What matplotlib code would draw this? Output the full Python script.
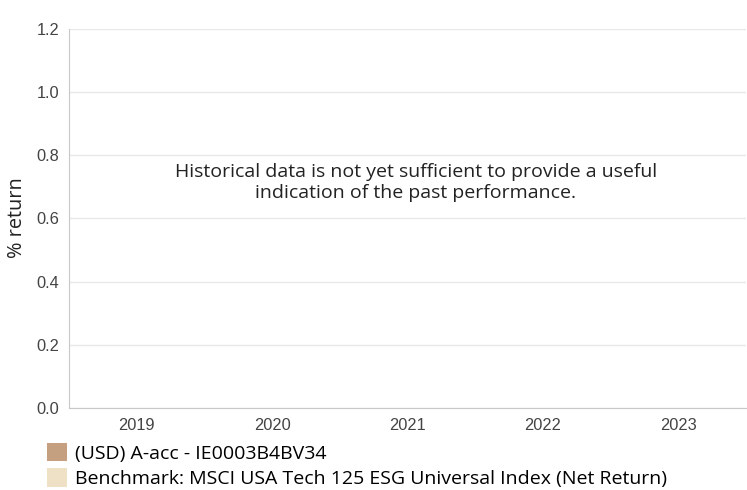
import numpy as np
import matplotlib.pyplot as plt
from matplotlib.patches import Patch

# Data: calendar years, no performance history available yet
years = ['2019', '2020', '2021', '2022', '2023']
fund_returns = [np.nan, np.nan, np.nan, np.nan, np.nan]
bench_returns = [np.nan, np.nan, np.nan, np.nan, np.nan]
series_names = ['(USD) A-acc - IE0003B4BV34',
                'Benchmark: MSCI USA Tech 125 ESG Universal Index (Net Return)']
series_colors = ['#c4a080', '#efe1c6']
yticks = [0.0, 0.2, 0.4, 0.6, 0.8, 1.0, 1.2]

fig = plt.figure(figsize=(7.47, 4.9), dpi=100)
ax = fig.add_axes([69 / 747, 1 - 408 / 490, 677 / 747, 379 / 490])

x = np.arange(len(years))
w = 0.35
ax.bar(x - w / 2, fund_returns, w, color=series_colors[0])
ax.bar(x + w / 2, bench_returns, w, color=series_colors[1])

ax.set_xlim(-0.5, len(years) - 0.5)
ax.set_ylim(0, 1.2)
ax.set_xticks(x)
ax.set_xticklabels(years, fontsize=11.8, color='#444444', family='Liberation Sans')
ax.set_yticks(yticks)
ax.set_yticklabels([f'{v:.1f}' for v in yticks], fontsize=11.8, color='#444444',
                   family='Liberation Sans')
ax.tick_params(axis='both', length=0, pad=7)
ax.grid(axis='y', color='#e8e8e8', linewidth=1)
ax.set_axisbelow(True)
for s in ['top', 'right']:
    ax.spines[s].set_visible(False)
ax.spines['left'].set_color('#c8c8c8')
ax.spines['bottom'].set_color('#c8c8c8')

fig.text(17 / 747, 1 - 218 / 490, '% return', rotation=90, ha='center', va='center',
         fontsize=14.3, color='#222222', family='Open Sans')

ax.text(0.512, 0.595, 'Historical data is not yet sufficient to provide a useful\n'
        'indication of the past performance.', transform=ax.transAxes,
        ha='center', va='center', fontsize=14, color='#222222', family='Open Sans',
        linespacing=1.2)

handles = [Patch(facecolor=c, edgecolor='none') for c in series_colors]
fig.legend(handles, series_names, loc='upper left', bbox_to_anchor=(47 / 747, 1 - 443 / 490),
           frameon=False, handlelength=1.05, handleheight=1.05,
           handletextpad=0.4, labelspacing=0.3, borderpad=0, borderaxespad=0,
           prop={'family': 'Open Sans', 'size': 14})

fig.savefig('out.png', dpi=100)
